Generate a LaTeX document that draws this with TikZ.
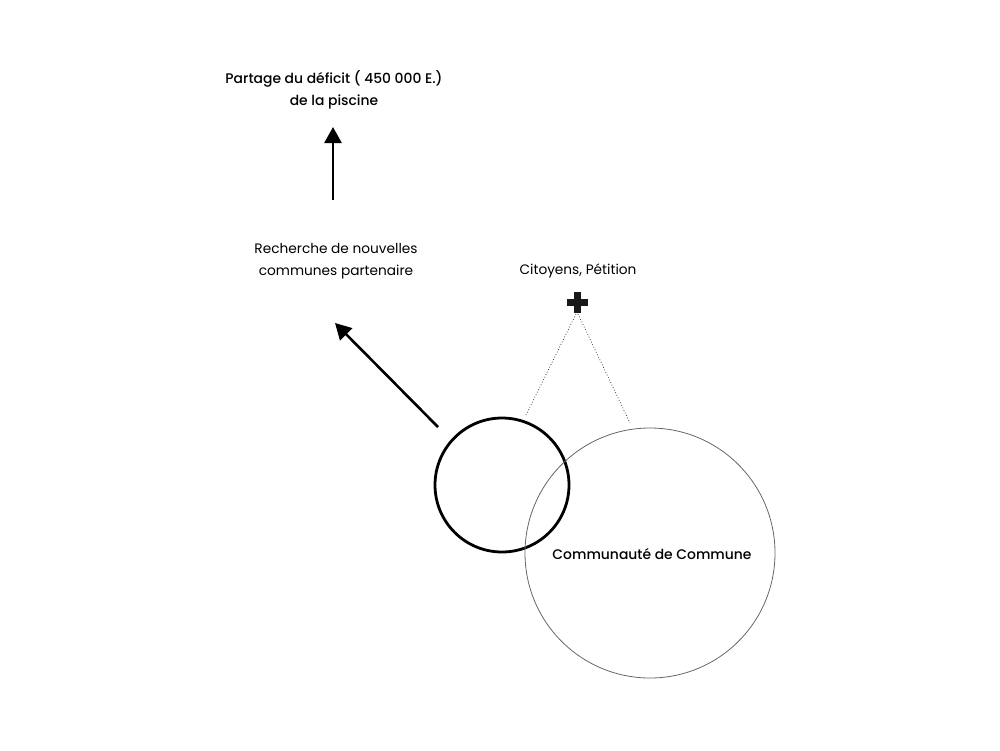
\documentclass[tikz,border=0pt]{standalone}
\usepackage{fontspec}
\setmainfont{Poppins}[BoldFont={Poppins Medium}]
\usetikzlibrary{arrows.meta}
\begin{document}
\begin{tikzpicture}[x=1pt,y=-1pt,
  lbl/.style={align=center,font=\fontsize{13.7}{22}\selectfont,inner sep=0pt},
  lblb/.style={lbl,font=\fontsize{13.9}{22}\selectfont\bfseries},
  bigarrow/.style={line width=2.6pt,-{Triangle[length=16pt,width=17pt]}},
  dotline/.style={line width=0.8pt,dotted,black!75}]
\useasboundingbox (0,0) rectangle (1000,750);
\node[lblb] (partage) at (334,90) {Partage du déficit ( 450 000 E.)\\de la piscine};
\node[lbl] (recherche) at (336,261) {Recherche de nouvelles\\communes partenaire};
\node[lbl] (citoyens) at (578,271) {Citoyens, Pétition};
\coordinate (arrowbase) at (333,200);
\coordinate (arrowtip) at (333,127);
\draw[bigarrow] (arrowbase) -- (arrowtip);
\node[draw,circle,line width=2.8pt,minimum size=134pt,inner sep=0pt] (small) at (502,485) {};
\node[draw=gray!80!black,circle,line width=0.8pt,minimum size=250pt,inner sep=0pt] (big) at (650,553) {};
\node[lblb] (cc) at (652,554) {Communauté de Commune};
\coordinate (dtail) at (438,427);
\coordinate (dtip) at (335,323);
\draw[bigarrow] (dtail) -- (dtip);
\coordinate (plus) at (577,302);
\fill[black!90] ([xshift=-10.5pt,yshift=-3.5pt]plus) rectangle ([xshift=10.5pt,yshift=3.5pt]plus);
\fill[black!90] ([xshift=-3.5pt,yshift=-10.5pt]plus) rectangle ([xshift=3.5pt,yshift=10.5pt]plus);
\coordinate (pl) at (576,314);
\coordinate (pr) at (578,314);
\coordinate (dl) at (526,415);
\coordinate (dr) at (630,423);
\draw[dotline] (pl) -- (dl);
\draw[dotline] (pr) -- (dr);
\end{tikzpicture}
\end{document}
